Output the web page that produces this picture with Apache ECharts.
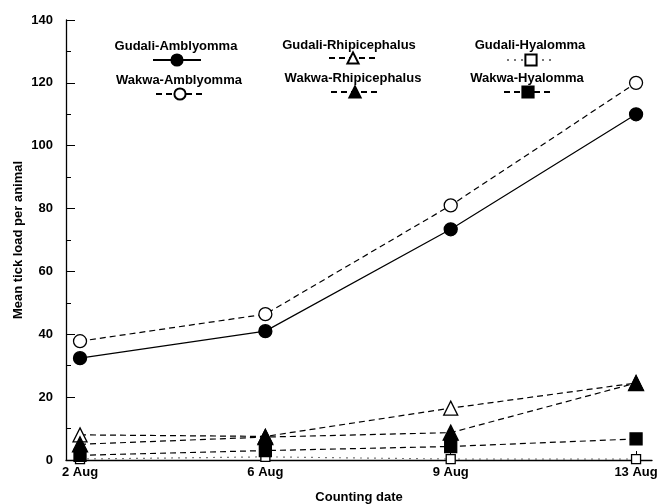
<!DOCTYPE html>
<html>
<head>
<meta charset="utf-8">
<script src="https://cdn.jsdelivr.net/npm/echarts@6/dist/echarts.min.js"></script>
<style>html,body{margin:0;padding:0;background:#fff}#c{width:659px;height:504px}</style>
</head>
<body>
<div id="c"></div>
<script>
var categories = ['2 Aug', '6 Aug', '9 Aug', '13 Aug'];
var yTicks = [0, 20, 40, 60, 80, 100, 120, 140];
var gudaliAmblyomma = [32.4, 41, 73.4, 110];
var wakwaAmblyomma = [37.8, 46.4, 81, 120];
var gudaliRhipicephalus = [8, 7.5, 16.5, 24.5];
var wakwaRhipicephalus = [5, 7.3, 8.7, 24.5];
var gudaliHyalomma = [0.3, 1, 0.3, 0.3];
var wakwaHyalomma = [1.5, 3, 4.3, 6.7];

var FONT = '"Liberation Sans", Arial, sans-serif';
function pts(arr) { return arr.map(function (v, i) { return [i, v]; }); }
var dash = [6, 4];

var chart = echarts.init(document.getElementById('c'), null, { renderer: 'canvas' });

function mkSeries(name, data, symbol, size, filled, lineType, lineColor, z) {
  return {
    name: name, type: 'line', data: pts(data),
    symbol: symbol, symbolSize: size,
    itemStyle: { color: filled ? '#000' : '#fff', borderColor: '#000', borderWidth: 1.3 },
    lineStyle: { color: lineColor || '#000', width: 1.2, type: lineType },
    emphasis: { disabled: true },
    animation: false, z: z || 3
  };
}

var series = [
  mkSeries('Gudali-Hyalomma', gudaliHyalomma, 'rect', 9, false, [2, 5], '#777', 2),
  mkSeries('Gudali-Amblyomma', gudaliAmblyomma, 'circle', 13, true, 'solid'),
  mkSeries('Wakwa-Amblyomma', wakwaAmblyomma, 'circle', 13, false, dash),
  mkSeries('Gudali-Rhipicephalus', gudaliRhipicephalus, 'triangle', 14, false, dash),
  mkSeries('Wakwa-Rhipicephalus', wakwaRhipicephalus, 'triangle', 15, true, dash),
  mkSeries('Wakwa-Hyalomma', wakwaHyalomma, 'rect', 12, true, dash)
];

var legendPos = [
  { name: 'Gudali-Amblyomma', left: 152, top: 53 },
  { name: 'Gudali-Rhipicephalus', left: 328, top: 51 },
  { name: 'Gudali-Hyalomma', left: 506, top: 53 },
  { name: 'Wakwa-Amblyomma', left: 155, top: 87 },
  { name: 'Wakwa-Rhipicephalus', left: 330, top: 85 },
  { name: 'Wakwa-Hyalomma', left: 503, top: 85 }
];
var legends = legendPos.map(function (p) {
  return {
    data: [p.name], left: p.left, top: p.top, padding: 0,
    itemWidth: 48, itemHeight: 14, formatter: function () { return ''; },
    selectedMode: false, textStyle: { fontSize: 1 }
  };
});

var labelPos = [
  { t: 'Gudali-Amblyomma', x: 176, y: 46 },
  { t: 'Gudali-Rhipicephalus', x: 349, y: 45 },
  { t: 'Gudali-Hyalomma', x: 530, y: 45 },
  { t: 'Wakwa-Amblyomma', x: 179, y: 80 },
  { t: 'Wakwa-Rhipicephalus', x: 353, y: 78 },
  { t: 'Wakwa-Hyalomma', x: 527, y: 78 }
];
var graphics = labelPos.map(function (l) {
  return {
    type: 'text', x: l.x, y: l.y,
    style: { text: l.t, fill: '#000', font: 'bold 13px ' + FONT, textAlign: 'center', textVerticalAlign: 'middle' }
  };
});

chart.setOption({
  backgroundColor: '#fff',
  animation: false,
  textStyle: { fontFamily: FONT },
  legend: legends,
  graphic: graphics,
  grid: { left: 66, right: 7, top: 20, bottom: 44, containLabel: false, outerBoundsMode: 'none' },
  xAxis: {
    type: 'value', min: -0.0756, max: 3.086,
    name: 'Counting date', nameLocation: 'middle', nameGap: 31, nameMoveOverlap: false,
    nameTextStyle: { color: '#000', fontWeight: 'bold', fontSize: 13, fontFamily: FONT },
    axisLine: { onZero: false, lineStyle: { color: '#000', width: 1.3 } },
    axisTick: { show: true, inside: true, length: 9, customValues: [0, 1, 2, 3], lineStyle: { color: '#000' } },
    axisLabel: {
      customValues: [0, 1, 2, 3], margin: 6, color: '#000', fontWeight: 'bold', fontSize: 13, fontFamily: FONT,
      formatter: function (v) { return categories[Math.round(v)]; }
    },
    splitLine: { show: false }
  },
  yAxis: {
    type: 'value', min: yTicks[0], max: yTicks[yTicks.length - 1], interval: 20,
    name: 'Mean tick load per animal', nameLocation: 'middle', nameGap: 41, nameRotate: 90, nameMoveOverlap: false,
    nameTextStyle: { color: '#000', fontWeight: 'bold', fontSize: 13, fontFamily: FONT },
    axisLine: { show: true, onZero: false, lineStyle: { color: '#000', width: 1.3 } },
    axisTick: { show: true, inside: true, length: 9, lineStyle: { color: '#000' } },
    minorTick: { show: true, splitNumber: 2, length: 5, lineStyle: { color: '#000' } },
    axisLabel: { margin: 13, color: '#000', fontWeight: 'bold', fontSize: 13, fontFamily: FONT },
    splitLine: { show: false }
  },
  series: series
});
</script>
</body>
</html>
